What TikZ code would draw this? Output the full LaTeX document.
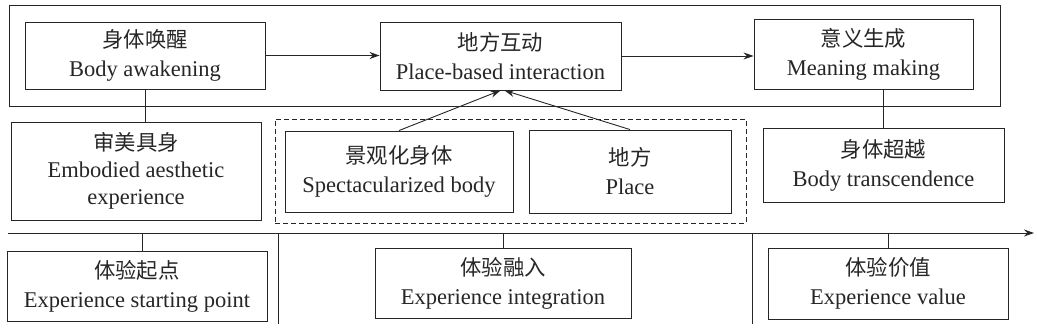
\documentclass[tikz,border=0pt]{standalone}
\usepackage{fontspec}
\setmainfont{Liberation Serif}
\newfontfamily\cjk{Noto Sans CJK SC}[Scale=0.95]
\usetikzlibrary{arrows.meta}
\begin{document}
\begin{tikzpicture}[x=1pt,y=-1pt,
  every path/.style={line width=0.9pt},
  color=black!85,
  box/.style={draw,align=center,inner sep=0pt,font=\fontsize{22.5}{29}\selectfont},
  arr/.style={-{Stealth[length=10pt,width=7pt]}},
  dbox/.style={draw,dash pattern=on 5pt off 3pt}]
\useasboundingbox (0,0) rectangle (1037,329);
% outer frame
\node[draw,minimum width=991pt,minimum height=101pt,inner sep=0pt] (outer) at (504.5,55.5) {};
% top row
\node[box,minimum width=240pt,minimum height=67pt] (aw) at (145,55.5) {{\cjk 身体唤醒}\\Body awakening};
\node[box,minimum width=241pt,minimum height=68pt] (pi) at (500.5,56) {{\cjk 地方互动}\\Place-based interaction};
\node[box,minimum width=219pt,minimum height=70pt] (mm) at (863.5,54) {{\cjk 意义生成}\\Meaning making};
% middle row
\node[dbox,minimum width=471pt,minimum height=104pt,inner sep=0pt] (dash) at (510.5,171) {};
\node[box,minimum width=250pt,minimum height=98pt,font=\fontsize{22.5}{27}\selectfont] (em) at (136,171) {{\cjk 审美具身}\\Embodied aesthetic\\experience};
\node[box,minimum width=228pt,minimum height=81pt] (sb) at (399,171.5) {{\cjk 景观化身体}\\Spectacularized body};
\node[box,minimum width=202pt,minimum height=83pt] (pl) at (630,171.5) {{\cjk 地方}\\Place};
\node[box,minimum width=241pt,minimum height=74pt] (bt) at (883.5,165) {{\cjk 身体超越}\\Body transcendence};
% bottom row
\coordinate (tl0) at (8,233);
\coordinate (tl1) at (1034,233);
\node[box,minimum width=260pt,minimum height=70pt] (es) at (137,286) {{\cjk 体验起点}\\Experience starting point};
\node[box,minimum width=256pt,minimum height=70pt] (ei) at (503,283) {{\cjk 体验融入}\\Experience integration};
\node[box,minimum width=240pt,minimum height=71pt] (ev) at (888,283.5) {{\cjk 体验价值}\\Experience value};
\coordinate (d1a) at (278,233);
\coordinate (d1b) at (278,324);
\coordinate (d2a) at (752,233);
\coordinate (d2b) at (752,324);
% connectors
\draw[arr] (aw.east) -- (pi.west |- aw.east);
\draw[arr] (pi.east) -- (mm.west |- pi.east);
\draw (aw.south) -- (aw.south |- em.north);
\draw (bt.north) -- (bt.north |- mm.south);
\draw[arr] (sb.north) -- (pi.south);
\draw[arr] (pl.north) -- ([xshift=4pt]pi.south);
\draw[arr] (tl0) -- (tl1);
\draw (es.north -| 142,0) -- (142,233);
\draw (ei.north) -- (ei.north |- tl0);
\draw (ev.north) -- (ev.north |- tl0);
\draw (d1a) -- (d1b);
\draw (d2a) -- (d2b);
\end{tikzpicture}
\end{document}
